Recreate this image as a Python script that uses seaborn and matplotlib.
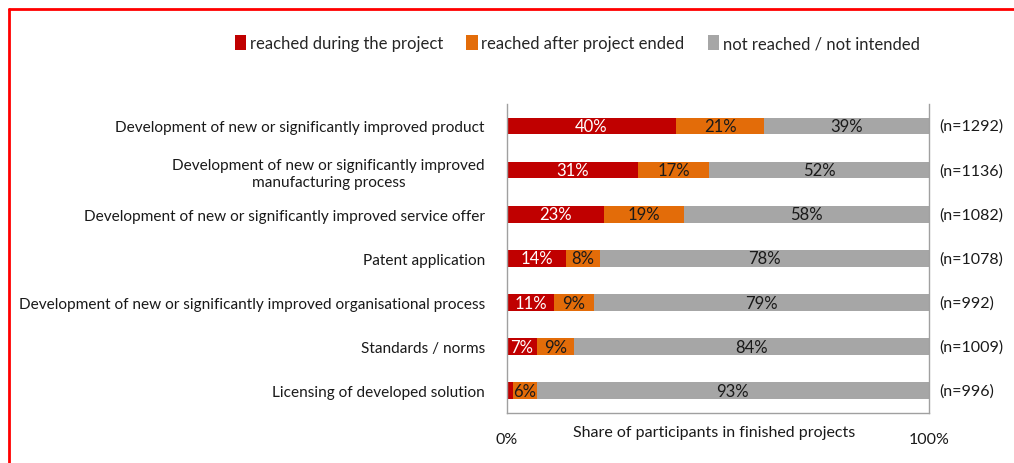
import matplotlib
matplotlib.use('Agg')
import matplotlib.pyplot as plt
from matplotlib.lines import Line2D
from matplotlib.patches import Patch
import seaborn as sns
import pandas as pd

# Outcome categories (top to bottom)
categories = [
    'Development of new or significantly improved product',
    'Development of new or significantly improved\nmanufacturing process',
    'Development of new or significantly improved service offer',
    'Patent application',
    'Development of new or significantly improved organisational process',
    'Standards / norms',
    'Licensing of developed solution',
]
# Shares in percent
during_project = [40, 31, 23, 14, 11.2, 7, 1.4]
after_project = [21, 17, 19, 8, 9.4, 9, 5.7]
not_reached = [39, 52, 58, 78, 79.4, 84, 92.9]
n_labels = ['(n=1292)', '(n=1136)', '(n=1082)', '(n=1078)', '(n=992)', '(n=1009)', '(n=996)']

series_names = ['reached during the project', 'reached after project ended', 'not reached / not intended']
colors = ['#C00000', '#E36C09', '#A6A6A6']
label_colors = ['white', '#1a1a1a', '#1a1a1a']

sns.set_style('white')
plt.rcParams['font.family'] = ['Lato', 'DejaVu Sans']

df = pd.DataFrame({
    'category': categories,
    'during': during_project,
    'after': after_project,
    'not': not_reached,
})
df['cum1'] = df['during']
df['cum2'] = df['during'] + df['after']
df['cum3'] = df['cum2'] + df['not']

fig = plt.figure(figsize=(10.14, 4.64), dpi=100)
ax = fig.add_axes([0.5, 0.108, 0.416, 0.666])

# stacked bars: draw cumulative totals from widest to narrowest
for col, color in zip(['cum3', 'cum2', 'cum1'], colors[::-1]):
    sns.barplot(data=df, y='category', x=col, orient='h', color=color,
                width=0.38, linewidth=0, saturation=1, ax=ax)

# segment labels
segments = [df['during'], df['after'], df['not']]
starts = [df['cum1'] * 0, df['cum1'], df['cum2']]
for seg, start, lc in zip(segments, starts, label_colors):
    for i, (w, s) in enumerate(zip(seg, start)):
        if w < 4:
            continue
        ax.text(s + w / 2, i, f'{w:.0f}%', ha='center', va='center',
                color=lc, fontsize=12)

# sample size labels on the right
for i, lab in enumerate(n_labels):
    ax.text(1.025, i, lab, transform=ax.get_yaxis_transform(), ha='left',
            va='center', fontsize=11.5, color='#1a1a1a')

ax.set_xlim(0, 100)
ax.set_ylim(len(categories) - 0.5, -0.5)
ax.set_xticks([0, 100])
ax.set_xticklabels(['0%', '100%'], fontsize=11.5, color='#1a1a1a')
ax.tick_params(axis='x', length=0, pad=14)
ax.tick_params(axis='y', length=0, pad=16, labelsize=11.1, labelcolor='#1a1a1a')
for lab in ax.get_yticklabels():
    lab.set_horizontalalignment('right')
    lab.set_multialignment('center')
    lab.set_linespacing(1.3)
ax.set_ylabel('')
ax.set_xlabel('Share of participants in finished projects', fontsize=11.5, color='#1a1a1a')
ax.xaxis.set_label_coords(0.49, -0.04)

for side in ['left', 'right', 'bottom']:
    ax.spines[side].set_color('#A0A0A0')
    ax.spines[side].set_linewidth(1)
ax.spines['top'].set_visible(False)

# legend
handles = [Patch(facecolor=c, edgecolor='none') for c in colors]
fig.legend(handles, series_names, loc='center', bbox_to_anchor=(0.569, 0.905),
           ncol=3, frameon=False, fontsize=12, handlelength=0.7, handleheight=1.0,
           handletextpad=0.2, columnspacing=1.4)

# red frame
fig.add_artist(Line2D([0.009, 0.009], [0, 0.978], color='red', lw=2, transform=fig.transFigure))
fig.add_artist(Line2D([0.009, 1], [0.978, 0.978], color='red', lw=2, transform=fig.transFigure))

fig.savefig('out.png', dpi=100)
